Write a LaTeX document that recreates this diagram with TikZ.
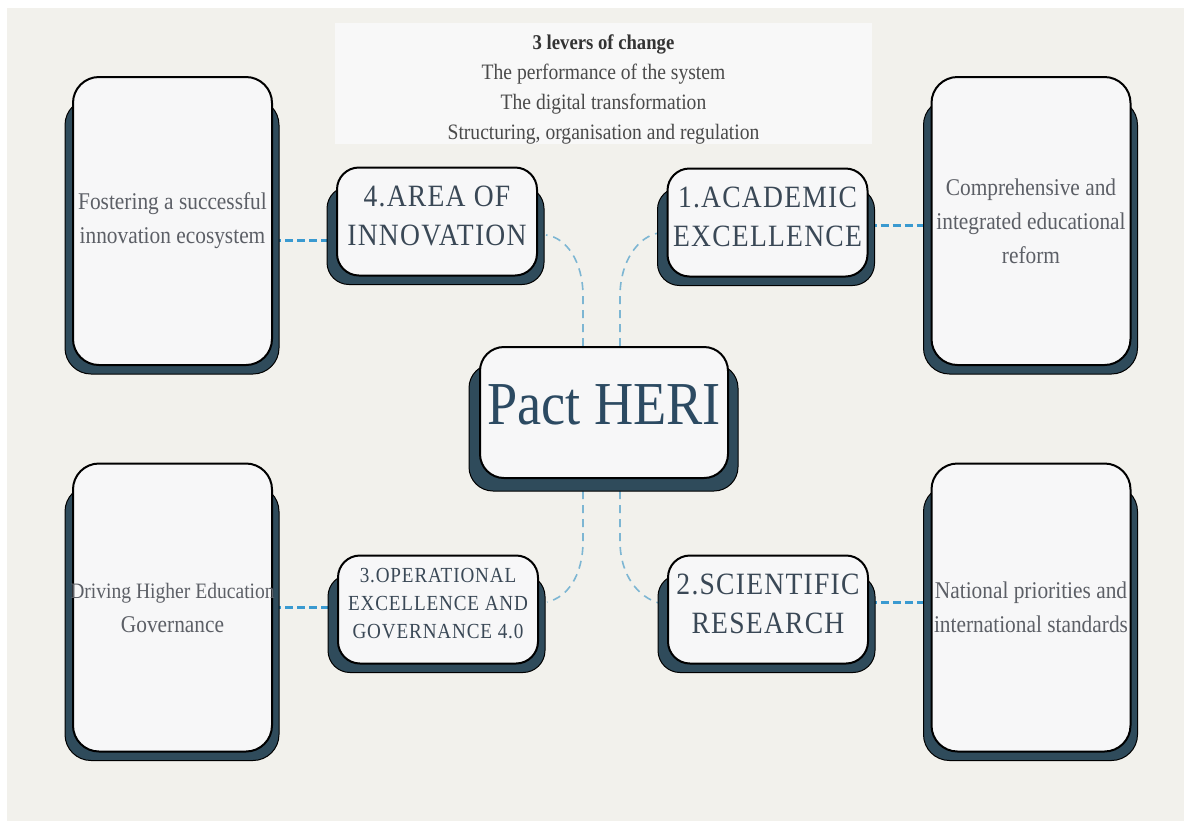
\documentclass[tikz,border=0pt]{standalone}
\usepackage{fontspec}
\setmainfont{Liberation Serif}[FakeStretch=0.89]
\newfontfamily\capsfont{Liberation Serif}[FakeStretch=0.89, LetterSpace=4]
\usetikzlibrary{calc, backgrounds}
\definecolor{canvasbeige}{HTML}{F2F1EC}
\definecolor{boxfill}{HTML}{F7F7F8}
\definecolor{panelfill}{HTML}{F8F8F8}
\definecolor{slate}{HTML}{2F4B5B}
\definecolor{pactblue}{HTML}{2C4A62}
\definecolor{capsgray}{HTML}{3A4856}
\definecolor{bodygray}{HTML}{5C5F66}
\definecolor{panelgray}{HTML}{4A4A4A}
\definecolor{linkblue}{HTML}{3A9AD0}
\definecolor{curveblue}{HTML}{7DB6D3}

\begin{document}
\begin{tikzpicture}[
    x=1pt, y=-1pt,
    bigbox/.style={rectangle, draw=black, line width=2pt, fill=boxfill, rounded corners=26pt, minimum width=199pt, minimum height=288pt, inner sep=0pt, align=center, text=bodygray, font=\fontsize{24}{34}\selectfont},
    pillar/.style={rectangle, draw=black, line width=2pt, fill=boxfill, rounded corners=22pt, minimum width=200pt, minimum height=108pt, inner sep=0pt, text depth=12pt, align=center, text=capsgray, font=\capsfont\fontsize{31}{39}\selectfont},
    core/.style={rectangle, draw=black, line width=2pt, fill=boxfill, rounded corners=24pt, minimum width=248pt, minimum height=131pt, inner sep=0pt, text depth=15pt, text=pactblue, font=\fontsize{61}{61}\selectfont},
    panel/.style={rectangle, fill=panelfill, minimum width=537pt, minimum height=117pt, inner sep=0pt, text height=116pt, align=center, text=panelgray, font=\fontsize{22}{30}\selectfont},
    shadowbox/.style={fill=slate, draw=black, line width=1pt, rounded corners=#1},
    shadowbox/.default=24pt,
    link/.style={line width=3pt, draw=linkblue, dash pattern=on 8pt off 4pt},
    branch/.style={line width=1.6pt, draw=curveblue, dash pattern=on 8pt off 6pt}
]
    \useasboundingbox (0,0) rectangle (1184,823);

    % Central node
    \node[core] (pact) at (604, 412.5) {Pact HERI};

    % Levers panel
    \node[panel] (levers) at (603.5, 83.5) {{\bfseries\color{black!80}\fontsize{21}{30}\selectfont 3 levers of change}\\The performance of the system\\The digital transformation\\Structuring, organisation and regulation};

    % Pillars
    \node[pillar] (innovation) at (437, 221.5) {4.AREA OF\\INNOVATION};
    \node[pillar] (academic) at (767.5, 222.5) {1.ACADEMIC\\EXCELLENCE};
    \node[pillar, font=\capsfont\fontsize{21.5}{28}\selectfont] (operational) at (438, 609.5) {3.OPERATIONAL\\EXCELLENCE AND\\GOVERNANCE 4.0};
    \node[pillar] (research) at (768, 609.5) {2.SCIENTIFIC\\RESEARCH};

    % Goals
    \node[bigbox] (ecosystem) at (172.5, 221) {Fostering a successful\\innovation ecosystem};
    \node[bigbox] (reform) at (1031, 221) {Comprehensive and\\integrated educational\\reform};
    \node[bigbox] (governance) at (172.5, 607.5) {\makebox[199pt]{\fontsize{22}{34}\selectfont Driving Higher Education}\\Governance};
    \node[bigbox] (standards) at (1031, 607.5) {National priorities and\\international standards};

    \begin{scope}[on background layer]
        \fill[white] (0,0) rectangle (1184,823);
        \fill[canvasbeige] (7,8) rectangle (1184,821);

        % Goal links
        \draw[link] ($(ecosystem.east)+(0,19)$) -- ($(innovation.west)+(0,18.5)$);
        \draw[link] ($(academic.east)+(0,2.5)$) -- ($(reform.west)+(0,4)$);
        \draw[link] (governance.east) -- ($(operational.west)+(0,-2)$);
        \draw[link] ($(research.east)+(0,-7.5)$) -- ($(standards.west)+(0,-5.5)$);

        % Branches from the centre
        \draw[branch] ($(pact.north)+(-21,0)$) -- ++(0,-50) .. controls +(0,-35) and ($(innovation.east)+(28,16)$) .. ($(innovation.east)+(8,13.5)$);
        \draw[branch] ($(pact.north)+(16,0)$) -- ++(0,-50) .. controls +(0,-35) and ($(academic.west)+(-28,14)$) .. ($(academic.west)+(-8,10.5)$);
        \draw[branch] ($(pact.south)+(-21,12)$) -- ++(0,50) .. controls +(0,35) and ($(operational.east)+(28,-12)$) .. ($(operational.east)+(8,-7.5)$);
        \draw[branch] ($(pact.south)+(16,12)$) -- ++(0,50) .. controls +(0,35) and ($(research.west)+(-28,-12)$) .. ($(research.west)+(-8,-6.5)$);

        % Shadows
        \foreach \n in {ecosystem, reform, governance, standards}
            \filldraw[shadowbox=26pt] ($(\n.north west)+(-7,23)$) rectangle ($(\n.south east)+(6,8)$);
        \foreach \n in {innovation, academic, operational, research}
            \filldraw[shadowbox=22pt] ($(\n.north west)+(-9,20)$) rectangle ($(\n.south east)+(6,8)$);
        \filldraw[shadowbox] ($(pact.north west)+(-10,18)$) rectangle ($(pact.south east)+(9,12)$);
    \end{scope}
\end{tikzpicture}
\end{document}
